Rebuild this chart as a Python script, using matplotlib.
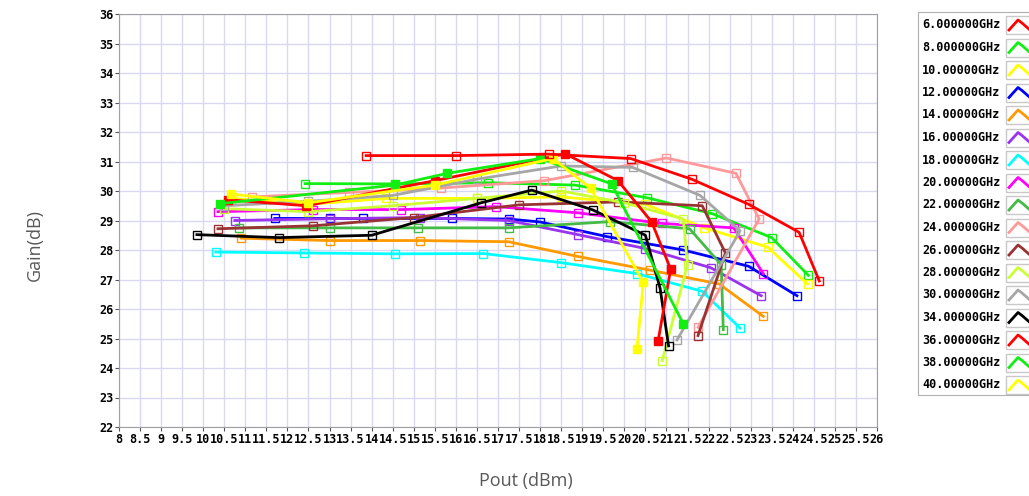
import matplotlib
matplotlib.use('Agg')
import matplotlib.pyplot as plt
from matplotlib.patches import Rectangle
import numpy as np

labels = ['6.000000GHz', '8.000000GHz', '10.00000GHz', '12.00000GHz', '14.00000GHz',
          '16.00000GHz', '18.00000GHz', '20.00000GHz', '22.00000GHz', '24.00000GHz',
          '26.00000GHz', '28.00000GHz', '30.00000GHz', '34.00000GHz', '36.00000GHz',
          '38.00000GHz', '40.00000GHz']

pout_6 = [13.87, 16.0, 18.2, 20.15, 21.6, 22.95, 24.15, 24.63]
gain_6 = [31.2, 31.2, 31.25, 31.1, 30.4, 29.55, 28.6, 26.95]
pout_8 = [12.42, 14.56, 16.77, 18.83, 20.54, 22.09, 23.5, 24.37]
gain_8 = [30.25, 30.24, 30.28, 30.2, 29.77, 29.23, 28.42, 27.14]
pout_10 = [10.7, 12.5, 14.35, 16.5, 18.5, 20.5, 21.9, 23.4, 24.35]
gain_10 = [29.75, 29.55, 29.75, 29.75, 29.8, 29.55, 28.75, 28.1, 26.85]
pout_12 = [11.7, 13.0, 13.8, 15.9, 17.25, 18.0, 19.6, 21.4, 22.95, 24.1]
gain_12 = [29.07, 29.07, 29.07, 29.07, 29.05, 28.95, 28.45, 28.0, 27.45, 26.45]
pout_14 = [10.9, 13.0, 15.15, 17.25, 18.9, 20.6, 22.25, 23.3]
gain_14 = [28.4, 28.32, 28.32, 28.28, 27.78, 27.32, 26.85, 25.75]
pout_16 = [10.75, 13.0, 15.15, 17.25, 18.9, 20.5, 22.05, 23.25]
gain_16 = [29.0, 29.06, 29.1, 29.0, 28.52, 28.05, 27.4, 26.45]
pout_18 = [10.3, 12.4, 14.55, 16.65, 18.5, 20.3, 21.85, 22.75]
gain_18 = [27.93, 27.9, 27.87, 27.88, 27.57, 27.2, 26.6, 25.35]
pout_20 = [10.35, 12.6, 14.7, 16.95, 18.9, 20.9, 22.6, 23.3]
gain_20 = [29.3, 29.37, 29.37, 29.47, 29.26, 28.9, 28.75, 27.2]
pout_22 = [10.85, 13.0, 15.1, 17.25, 19.65, 21.55, 22.3, 22.35]
gain_22 = [28.75, 28.75, 28.75, 28.75, 28.96, 28.72, 27.5, 25.3]
pout_24 = [11.15, 13.45, 15.65, 18.1, 21.0, 22.65, 23.2, 21.75]
gain_24 = [29.8, 29.95, 30.1, 30.35, 31.12, 30.6, 29.05, 25.38]
pout_26 = [10.35, 12.6, 15.0, 17.5, 19.85, 21.85, 22.4, 21.75]
gain_26 = [28.72, 28.82, 29.1, 29.53, 29.63, 29.5, 27.9, 25.1]
pout_28 = [10.5, 12.5, 14.5, 16.5, 18.5, 20.0, 21.4, 21.5, 20.9]
gain_28 = [29.4, 29.3, 29.5, 29.75, 30.0, 29.6, 29.05, 27.5, 24.25]
pout_30 = [10.5, 12.5, 14.5, 16.5, 18.5, 20.2, 21.8, 22.75, 21.25]
gain_30 = [29.5, 29.65, 29.85, 30.4, 30.85, 30.8, 29.85, 28.65, 24.95]
pout_34 = [9.85, 11.8, 14.0, 16.6, 17.8, 19.25, 20.5, 20.85, 21.05]
gain_34 = [28.52, 28.42, 28.5, 29.6, 30.03, 29.36, 28.5, 26.7, 24.75]
pout_36 = [10.6, 12.45, 15.5, 18.6, 19.85, 20.65, 21.1, 20.8]
gain_36 = [29.7, 29.5, 30.35, 31.26, 30.35, 28.95, 27.35, 24.9]
pout_38 = [10.4, 14.55, 15.8, 18.0, 19.7, 21.4]
gain_38 = [29.57, 30.2, 30.6, 31.1, 30.24, 25.5]
pout_40 = [10.65, 12.5, 15.5, 18.3, 19.2, 20.45, 20.3]
gain_40 = [29.9, 29.6, 30.2, 31.1, 30.1, 26.9, 24.65]

pouts = [pout_6, pout_8, pout_10, pout_12, pout_14, pout_16, pout_18, pout_20, pout_22,
         pout_24, pout_26, pout_28, pout_30, pout_34, pout_36, pout_38, pout_40]
gains = [gain_6, gain_8, gain_10, gain_12, gain_14, gain_16, gain_18, gain_20, gain_22,
         gain_24, gain_26, gain_28, gain_30, gain_34, gain_36, gain_38, gain_40]
colors = ['#ff0000', '#11ee11', '#ffff00', '#0000ff', '#ff9900', '#9933ee', '#00ffff',
          '#ff00ff', '#44bb44', '#ff9999', '#993333', '#ccff33', '#a6a6a6', '#000000',
          '#ff0000', '#11ee11', '#ffff00']
filled = [False] * 14 + [True] * 3

fig = plt.figure(figsize=(10.29, 4.96), dpi=100)
ax = fig.add_axes([119 / 1029, 69 / 496, 758 / 1029, 413 / 496])

tick_font = {'family': 'DejaVu Sans Mono', 'weight': 'bold', 'size': 8.5}

ax.set_xlim(8, 26)
ax.set_ylim(22, 36)
xt = np.arange(8, 26.01, 0.5)
ax.set_xticks(xt)
ax.set_xticklabels(['%g' % v for v in xt], fontdict=tick_font)
ax.set_yticks(np.arange(22, 37, 1))
ax.set_yticklabels([str(v) for v in range(22, 37)], fontdict=tick_font)
ax.tick_params(direction='out', length=3, width=0.8, color='#555555', pad=1)
ax.grid(True, color='#d8d8f4', linewidth=1)
ax.set_axisbelow(True)
for s in ax.spines.values():
    s.set_color('#a0a0a0')

# 6 GHz drawn last so it sits on top like in the source
order = list(range(1, len(pouts))) + [0]
for z, i in enumerate(order):
    ax.plot(pouts[i], gains[i], color=colors[i], linewidth=2.0, marker='s', markersize=5.5,
            markerfacecolor=colors[i] if filled[i] else 'none',
            markeredgecolor=colors[i], markeredgewidth=1, zorder=3 + z * 0.01)

fig.text(35 / 1029, 1 - 245 / 496, 'Gain(dB)', rotation=90, ha='center', va='center',
         fontsize=13, color='#595959', family='Open Sans')
fig.text(526 / 1029, 1 - 481 / 496, 'Pout (dBm)', ha='center', va='center',
         fontsize=13, color='#595959', family='Open Sans')

# legend panel drawn in pixel coordinates, runs off the right edge like the reference
lax = fig.add_axes([918 / 1029, (496 - 395) / 496, 130 / 1029, 383 / 496])
lax.set_xlim(918, 1048)
lax.set_ylim(395, 12)
lax.set_xticks([])
lax.set_yticks([])
for s in lax.spines.values():
    s.set_color('#b0b0b0')
for i, lab in enumerate(labels):
    yc = 25 + i * 22.5
    lax.text(922, yc, lab, ha='left', va='center', fontdict=tick_font)
    lax.add_patch(Rectangle((1006, yc - 9), 26, 18, fill=False, edgecolor='#c8c8c8', linewidth=1))
    lax.plot([1009, 1018, 1022, 1030], [yc + 5, yc - 5, yc - 2, yc + 5], color=colors[i], linewidth=2)

plt.savefig('out.png', dpi=100)
